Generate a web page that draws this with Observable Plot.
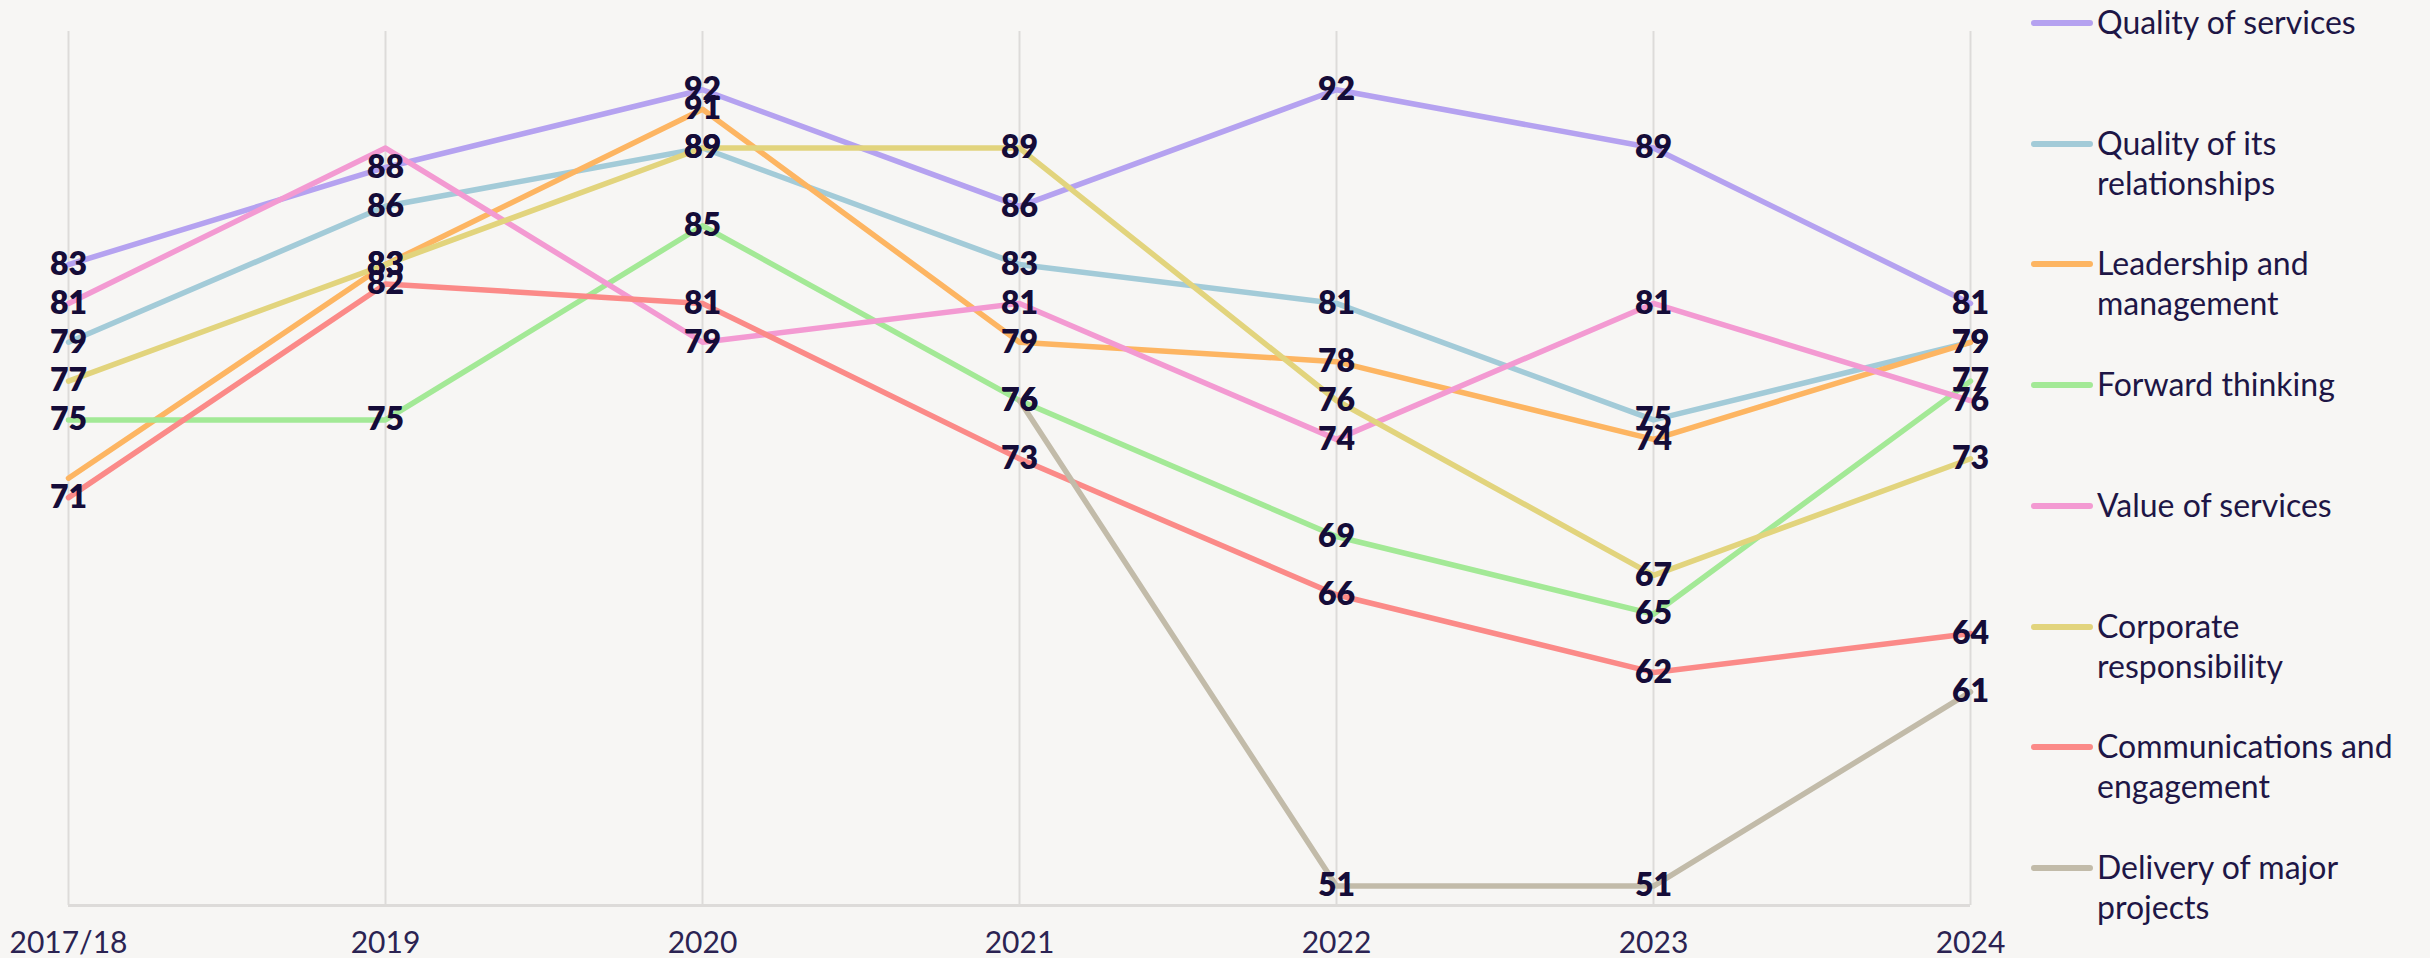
<!DOCTYPE html>
<html>
<head>
<meta charset="utf-8">
<script src="https://cdn.jsdelivr.net/npm/d3@7"></script>
<script src="https://cdn.jsdelivr.net/npm/@observablehq/plot@0.6"></script>
<style>
  html, body { margin: 0; padding: 0; background: #f7f6f4; }
  #wrap { position: relative; width: 2430px; height: 958px; overflow: hidden; }
  #legend { position: absolute; left: 2031px; top: 0; font-family: Lato, "Noto Sans", sans-serif; color: #1e1646; }
  .item { position: absolute; left: 0; width: 400px; }
  .sw { position: absolute; left: 0; width: 62px; height: 6px; border-radius: 3px; }
  .lab { position: absolute; left: 66px; width: 318px; font-size: 32px; line-height: 40px; }
</style>
</head>
<body>
<div id="wrap"><div id="chart"></div><div id="legend"></div></div>
<script>
const years = ["2017/18", "2019", "2020", "2021", "2022", "2023", "2024"];
const seriesNames = [
  "Quality of services",
  "Quality of its relationships",
  "Leadership and management",
  "Forward thinking",
  "Value of services",
  "Corporate responsibility",
  "Communications and engagement",
  "Delivery of major projects"
];
const colors = ["#b5a2f0", "#a3cbd8", "#fdb562", "#a3e996", "#f39ad2", "#e2d47d", "#fb8a88", "#c2bba9"];

const qualityOfServices       = [83, 88, 92, 86, 92, 89, 81];
const qualityOfRelationships  = [79, 86, 89, 83, 81, 75, 79];
const leadershipManagement    = [72, 83, 91, 79, 78, 74, 79];
const forwardThinking         = [75, 75, 85, 76, 69, 65, 77];
const valueOfServices         = [81, 89, 79, 81, 74, 81, 76];
const corporateResponsibility = [77, 83, 89, 89, 76, 67, 73];
const communications          = [71, 82, 81, 73, 66, 62, 64];
const deliveryMajorProjects   = [null, null, null, 76, 51, 51, 61];

// labels not shown in the original chart
const hiddenLabels = [["Leadership and management", "2017/18"], ["Value of services", "2019"]];

const seriesValues = [qualityOfServices, qualityOfRelationships, leadershipManagement, forwardThinking,
  valueOfServices, corporateResponsibility, communications, deliveryMajorProjects];

const rows = [];
seriesNames.forEach((s, i) => {
  seriesValues[i].forEach((v, j) => {
    if (v != null) rows.push({series: s, year: years[j], value: v});
  });
});
const labelRows = rows.filter(r => !hiddenLabels.some(([s, y]) => s === r.series && y === r.year));

const chart = Plot.plot({
  width: 2430,
  height: 958,
  marginLeft: 68,
  marginRight: 460,
  marginTop: 31,
  marginBottom: 53,
  style: {background: "transparent", fontFamily: "Lato, 'Noto Sans', sans-serif", overflow: "visible"},
  x: {type: "point", domain: years, padding: 0, label: null},
  y: {domain: [50, 95], axis: null},
  color: {domain: seriesNames, range: colors},
  marks: [
    Plot.gridX(years, {stroke: "#dddbd9", strokeOpacity: 1, strokeWidth: 2}),
    Plot.ruleY([50], {stroke: "#dddbd9", strokeWidth: 3}),
    Plot.axisX({tickSize: 0, tickPadding: 26, fontSize: 30, fill: "#2b2352", label: null}),
    Plot.line(rows, {x: "year", y: "value", z: "series", stroke: "series", strokeWidth: 5.5, strokeLinejoin: "round"}),
    Plot.text(labelRows, {x: "year", y: "value", text: d => String(d.value), fontSize: 32, fontWeight: 800, fill: "#150c38"})
  ]
});
document.getElementById("chart").appendChild(chart);

const legend = document.getElementById("legend");
seriesNames.forEach((s, i) => {
  const cy = 23 + i * 120.7;
  const item = document.createElement("div");
  item.className = "item";
  item.style.top = cy + "px";
  const sw = document.createElement("div");
  sw.className = "sw";
  sw.style.background = colors[i];
  sw.style.top = "-3px";
  const lab = document.createElement("div");
  lab.className = "lab";
  lab.style.top = "-21px";
  lab.textContent = s;
  item.appendChild(sw);
  item.appendChild(lab);
  legend.appendChild(item);
});
</script>
</body>
</html>
